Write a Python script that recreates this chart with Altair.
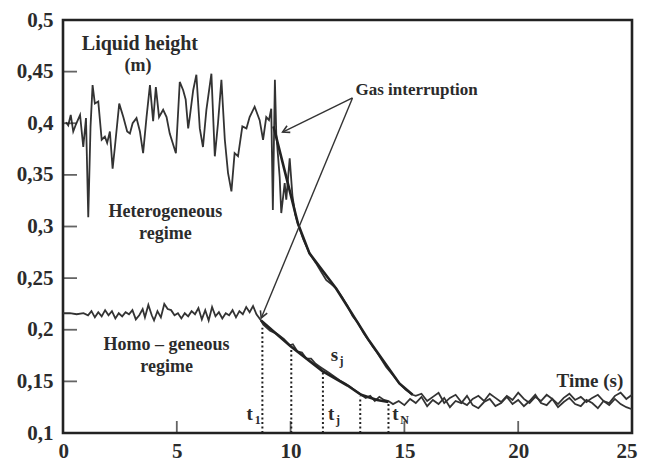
import altair as alt
import pandas as pd

# ---------------- data ----------------
# Heterogeneous regime (upper trace)
het_t = [0.13, 0.23, 0.34, 0.45, 0.57, 0.75, 0.89, 1.01, 1.11, 1.21, 1.30, 1.40, 1.55, 1.70, 1.84,
         1.94, 2.06, 2.18, 2.28, 2.47, 2.65, 2.82, 2.94, 3.06, 3.23, 3.38, 3.52, 3.67, 3.82, 3.96,
         4.08, 4.22, 4.40, 4.55, 4.69, 4.96, 5.13, 5.28, 5.39, 5.50, 5.57, 5.72, 5.86, 6.01, 6.15,
         6.30, 6.52, 6.67, 6.81, 6.96, 7.11, 7.25, 7.40, 7.54, 7.69, 7.88, 8.06, 8.20, 8.42, 8.64,
         8.79, 8.93, 9.05, 9.15, 9.22, 9.31, 9.37, 9.52, 9.59, 9.74, 9.81, 9.96, 10.08, 10.2,
         10.32, 10.55, 10.83, 11.1, 11.35, 11.57, 11.8, 12.0, 12.25, 12.5, 12.73, 12.95, 13.2,
         13.35, 13.46, 13.6, 13.8, 14.0, 14.2, 14.5, 14.78, 15.05, 15.36,
         15.5, 15.75, 16.0, 16.25, 16.5, 16.75, 17.0, 17.25, 17.5, 17.75, 18.0, 18.25, 18.5, 18.75,
         19.0, 19.25, 19.5, 19.75, 20.0, 20.25, 20.5, 20.75, 21.0, 21.25, 21.5, 21.75, 22.0, 22.25,
         22.5, 22.75, 23.0, 23.25, 23.5, 23.75, 24.0, 24.25, 24.5, 24.75, 25.0]
het_h = [0.401, 0.398, 0.408, 0.392, 0.399, 0.408, 0.377, 0.405, 0.309, 0.397, 0.437, 0.419, 0.421, 0.384, 0.387,
         0.381, 0.392, 0.356, 0.377, 0.419, 0.406, 0.392, 0.390, 0.400, 0.405, 0.392, 0.371, 0.406, 0.437, 0.402,
         0.435, 0.406, 0.413, 0.406, 0.390, 0.371, 0.440, 0.432, 0.423, 0.395, 0.406, 0.432, 0.447, 0.395, 0.377,
         0.413, 0.448, 0.368, 0.400, 0.442, 0.384, 0.352, 0.334, 0.371, 0.368, 0.397, 0.395, 0.406, 0.416, 0.403,
         0.384, 0.406, 0.403, 0.414, 0.316, 0.442, 0.390, 0.348, 0.313, 0.342, 0.326, 0.366, 0.330, 0.312,
         0.303, 0.288, 0.274, 0.265, 0.256, 0.248, 0.244, 0.240, 0.232, 0.223, 0.213, 0.207, 0.197,
         0.192, 0.189, 0.184, 0.178, 0.171, 0.164, 0.156, 0.148, 0.142, 0.137,
         0.136, 0.138, 0.131, 0.135, 0.139, 0.129, 0.134, 0.137, 0.130, 0.127, 0.133, 0.136, 0.131, 0.138,
         0.134, 0.130, 0.136, 0.132, 0.139, 0.133, 0.129, 0.135, 0.131, 0.137, 0.133, 0.128, 0.134, 0.138,
         0.132, 0.135, 0.130, 0.134, 0.137, 0.131, 0.129, 0.136, 0.139, 0.133, 0.137]

# Homogeneous regime (lower trace)
hom_t = [0.0, 0.3, 0.6, 0.9, 1.1, 1.25, 1.4, 1.55, 1.7, 1.85, 2.0, 2.15, 2.3, 2.45, 2.6, 2.75, 2.9,
         3.05, 3.2, 3.35, 3.5, 3.6, 3.75, 3.9, 4.0, 4.15, 4.3, 4.45, 4.6, 4.75, 4.9, 5.05, 5.2, 5.35,
         5.5, 5.65, 5.8, 5.95, 6.1, 6.25, 6.4, 6.55, 6.7, 6.85, 7.0, 7.15, 7.3, 7.45, 7.6, 7.75, 7.9,
         8.05, 8.2, 8.35, 8.5, 8.7,
         8.8, 9.1, 9.4, 9.7, 9.96, 10.1, 10.3, 10.5, 10.7, 10.9, 11.1, 11.3, 11.5, 11.7, 11.9, 12.15,
         12.4, 12.6, 12.85, 13.1, 13.3, 13.5, 13.7, 13.9, 14.1, 14.3,
         14.5, 14.75, 15.0, 15.25, 15.5, 15.75, 16.0, 16.25, 16.5, 16.75, 17.0, 17.25, 17.5, 17.75,
         18.0, 18.25, 18.5, 18.75, 19.0, 19.25, 19.5, 19.75, 20.0, 20.25, 20.5, 20.75, 21.0, 21.25,
         21.5, 21.75, 22.0, 22.25, 22.5, 22.75, 23.0, 23.25, 23.5, 23.75, 24.0, 24.25, 24.5, 24.75, 25.0]
hom_h = [0.216, 0.216, 0.215, 0.216, 0.214, 0.218, 0.212, 0.217, 0.213, 0.219, 0.214, 0.218, 0.211, 0.216,
         0.213, 0.217, 0.215, 0.219, 0.210, 0.214, 0.220, 0.212, 0.224, 0.214, 0.209, 0.218, 0.212, 0.225,
         0.220, 0.219, 0.214, 0.216, 0.211, 0.216, 0.213, 0.218, 0.215, 0.221, 0.210, 0.219, 0.209, 0.222,
         0.213, 0.217, 0.211, 0.216, 0.214, 0.219, 0.212, 0.218, 0.215, 0.222, 0.217, 0.223, 0.215, 0.209,
         0.205, 0.199, 0.196, 0.191, 0.185, 0.186, 0.179, 0.178, 0.172, 0.172, 0.167, 0.164, 0.161, 0.158,
         0.155, 0.151, 0.148, 0.145, 0.141, 0.137, 0.134, 0.136, 0.131, 0.135, 0.132, 0.131,
         0.128, 0.131, 0.127, 0.133, 0.129, 0.135, 0.126, 0.132, 0.128, 0.134, 0.125, 0.131, 0.129, 0.136,
         0.127, 0.124, 0.130, 0.133, 0.126, 0.129, 0.135, 0.128, 0.132, 0.126, 0.131, 0.137, 0.129, 0.127,
         0.133, 0.125, 0.130, 0.134, 0.128, 0.126, 0.132, 0.129, 0.124, 0.131, 0.127, 0.133, 0.128, 0.125,
         0.123]

# Drawn decay lines (thicker)
het_fit_t = [9.25, 10.32, 10.83, 12.0, 13.46, 14.78, 15.36]
het_fit_h = [0.397, 0.303, 0.274, 0.240, 0.189, 0.148, 0.137]
hom_fit_t = [8.7, 10.0, 11.4, 12.5, 13.1, 13.8, 14.3]
hom_fit_h = [0.209, 0.184, 0.160, 0.146, 0.137, 0.132, 0.130]

# Dotted sampling instants
drop_t = [8.76, 10.03, 11.42, 13.06, 14.3]
drop_h = [0.202, 0.182, 0.159, 0.135, 0.130]

# Arrows from "Gas interruption"
arrow_t0 = [12.72, 12.72]
arrow_h0 = [0.4245, 0.4245]
arrow_t1 = [9.65, 8.71]
arrow_h1 = [0.3915, 0.2114]
arrow_angle = [154, 112.5]

# Text annotations
notes_text = ["Liquid height", "(m)", "Gas interruption", "Heterogeneous", "regime",
              "Homo – geneous", "regime", "Time (s)"]
notes_t = [3.38, 3.3, 12.85, 4.5, 4.5, 4.55, 4.55, 23.15]
notes_h = [0.4768, 0.4555, 0.432, 0.314, 0.293, 0.185, 0.164, 0.150]
notes_size = [20, 18, 17, 18, 18, 18, 18, 19]
notes_align = ["center", "center", "left", "center", "center", "center", "center", "center"]

sym_main = ["t", "t", "t", "s"]
sym_sub = ["1", "j", "N", "j"]
sym_t = [8.2, 11.78, 14.6, 11.93]
sym_h = [0.118, 0.118, 0.118, 0.176]

x_ticks = [5, 10, 15, 20]
y_ticks = [0.15, 0.2, 0.25, 0.3, 0.35, 0.4, 0.45]
x_labels = [0, 5, 10, 15, 20, 25]
y_labels = [0.1, 0.15, 0.2, 0.25, 0.3, 0.35, 0.4, 0.45, 0.5]

# ---------------- chart ----------------
FONT = "Liberation Serif"
INK = "#2b2b2b"
xs = alt.Scale(domain=[0, 25], nice=False)
ys = alt.Scale(domain=[0.1, 0.5], nice=False, zero=False)

xaxis = alt.Axis(values=x_labels, ticks=False, domain=False, grid=False,
                 labelFont=FONT, labelFontSize=21, labelFontWeight="bold", labelColor=INK,
                 labelPadding=7, labelFlush=True, labelFlushOffset=5, title=None)
yaxis = alt.Axis(values=y_labels, ticks=False,
                 domain=False, grid=False, labelFont=FONT, labelFontSize=21,
                 labelFontWeight="bold", labelColor=INK, labelPadding=10,
                 labelExpr="replace(format(datum.value, '.2~f'), '.', ',')", title=None)


def X(f):
    return alt.X(f, scale=xs, axis=xaxis)


def Y(f):
    return alt.Y(f, scale=ys, axis=yaxis)


series = pd.concat([
    pd.DataFrame({"t": het_t, "h": het_h, "s": "het"}),
    pd.DataFrame({"t": hom_t, "h": hom_h, "s": "hom"}),
])
fits = pd.concat([
    pd.DataFrame({"t": het_fit_t, "h": het_fit_h, "s": "het"}),
    pd.DataFrame({"t": hom_fit_t, "h": hom_fit_h, "s": "hom"}),
])

lines = alt.Chart(series).mark_line(color="#333", strokeWidth=1.8).encode(
    x=X("t:Q"), y=Y("h:Q"), detail="s:N",
)

fit_lines = alt.Chart(fits).mark_line(color="#222", strokeWidth=2.6).encode(
    x=X("t:Q"), y=Y("h:Q"), detail="s:N",
)

drops = alt.Chart(pd.DataFrame({"t": drop_t, "h": drop_h, "b": [0.1] * len(drop_t)})).mark_rule(
    color="#222", strokeWidth=2, strokeDash=[2, 2.5]).encode(
    x=X("t:Q"), y=Y("b:Q"), y2="h:Q",
)

arrows_df = pd.DataFrame({"t0": arrow_t0, "h0": arrow_h0, "t1": arrow_t1, "h1": arrow_h1,
                          "a": arrow_angle})
arrow_lines = alt.Chart(arrows_df).mark_rule(color="#333", strokeWidth=1.4).encode(
    x=X("t0:Q"), y=Y("h0:Q"), x2="t1:Q", y2="h1:Q",
)
arrow_heads = alt.Chart(arrows_df).mark_point(
    shape="M-1,-0.55L0,0L-1,0.55", filled=False, color="#333", strokeWidth=1.6, size=180,
    opacity=1).encode(
    x=X("t1:Q"), y=Y("h1:Q"),
    angle=alt.Angle("a:Q", scale=None),
)

notes_df = pd.DataFrame({"text": notes_text, "t": notes_t, "h": notes_h,
                         "size": notes_size, "align": notes_align})
note_layers = []
for al in ["center", "left"]:
    sub = notes_df[notes_df["align"] == al]
    note_layers.append(
        alt.Chart(sub).mark_text(font=FONT, fontWeight="bold", color=INK, align=al,
                                 baseline="middle").encode(
            x=X("t:Q"), y=Y("h:Q"),
            text="text:N",
            size=alt.Size("size:Q", scale=None, legend=None),
        )
    )

sym_df = pd.DataFrame({"m": sym_main, "sub": sym_sub, "t": sym_t, "h": sym_h})
sym_main_layer = alt.Chart(sym_df).mark_text(font=FONT, fontWeight="bold", fontSize=19,
                                             color=INK, align="center", baseline="middle").encode(
    x=X("t:Q"), y=Y("h:Q"), text="m:N",
)
sym_sub_layer = alt.Chart(sym_df).mark_text(font=FONT, fontWeight="bold", fontSize=12,
                                            color=INK, align="left", baseline="middle",
                                            dx=5, dy=6).encode(
    x=X("t:Q"), y=Y("h:Q"), text="sub:N",
)

ytick_layer = alt.Chart(pd.DataFrame({"v": y_ticks})).mark_tick(
    orient="horizontal", size=14, thickness=1.8, color="#222").encode(
    y=Y("v:Q"), x=alt.value(7),
)
xtick_layer = alt.Chart(pd.DataFrame({"v": x_ticks})).mark_tick(
    orient="vertical", size=12, thickness=1.8, color="#222").encode(
    x=X("v:Q"), y=alt.value(407),
)

chart = alt.layer(
    lines, fit_lines, drops, arrow_lines, arrow_heads, *note_layers,
    sym_main_layer, sym_sub_layer, ytick_layer, xtick_layer,
).properties(
    width=569, height=413,
    autosize=alt.AutoSizeParams(type="none"),
    padding={"left": 55, "top": 12, "right": 9, "bottom": 28},
    background="white",
).configure_view(stroke="#222", strokeWidth=2.6)

chart.save("out.html", embed_options={"renderer": "svg", "actions": False})
